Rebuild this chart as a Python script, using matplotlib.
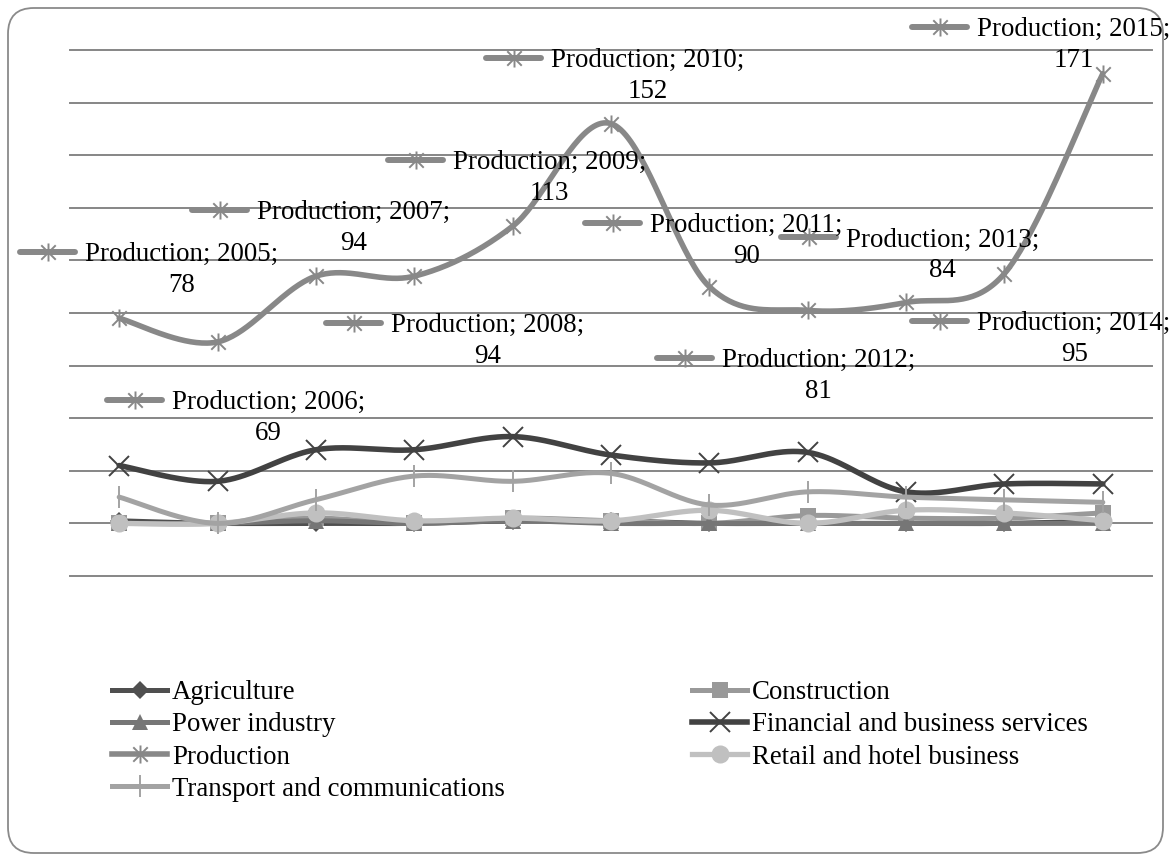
import numpy as np
import matplotlib
matplotlib.use("Agg")
import matplotlib.pyplot as plt
from matplotlib.path import Path
from matplotlib.lines import Line2D
from matplotlib.patches import FancyBboxPatch
from matplotlib.transforms import IdentityTransform

# ---------------- data ----------------
years = [2005, 2006, 2007, 2008, 2009, 2010, 2011, 2012, 2013, 2014, 2015]
agriculture = [1, 0, 0, 0, 1, 1, 0, 0, 0, 0, 1]
construction = [0, 0, 2, 0, 2, 1, 0, 3, 2, 2, 4]
power_industry = [0, 0, 1, 0, 1, 0, 0, 0, 0, 0, 0]
financial = [22, 16, 28, 28, 33, 26, 23, 27, 12, 15, 15]
production = [78, 69, 94, 94, 113, 152, 90, 81, 84, 95, 171]
retail = [0, 0, 4, 1, 2, 1, 5, 0, 5, 4, 1]
transport = [10, 0, 9, 18, 16, 19, 7, 12, 10, 9, 8]
y_ticks = [-20, 0, 20, 40, 60, 80, 100, 120, 140, 160, 180]

# label placement (pixel offsets of label text from its point: dx, dy-down)
label_offsets = [(-34, -66), (-46, 58), (-59, -66), (-23, 47), (-60, -66),
                 (-60, -66), (-59, -64), (-86, 48), (-60, -65), (-27, 47),
                 (-126, -47)]

W, H = 1171, 861
FONT = "Liberation Serif"
FS = 19.4

plt.rcParams["font.family"] = [FONT, "DejaVu Serif"]

# asterisk (x + vertical bar) marker
star_path = Path(
    [(-1, -1), (1, 1), (-1, 1), (1, -1), (0, -1.25), (0, 1.25)],
    [Path.MOVETO, Path.LINETO, Path.MOVETO, Path.LINETO, Path.MOVETO, Path.LINETO],
)


def smooth(x, y, n=40):
    P = np.column_stack([np.asarray(x, float), np.asarray(y, float)])
    P = np.vstack([P[0], P, P[-1]])
    out = []
    t = np.linspace(0, 1, n, endpoint=False)[:, None]
    for i in range(1, len(P) - 2):
        p0, p1, p2, p3 = P[i - 1], P[i], P[i + 1], P[i + 2]
        c1 = p1 + (p2 - p0) / 6.0
        c2 = p2 - (p3 - p1) / 6.0
        seg = ((1 - t) ** 3) * p1 + 3 * ((1 - t) ** 2) * t * c1 + 3 * (1 - t) * t ** 2 * c2 + t ** 3 * p2
        out.append(seg)
    out.append(P[-2][None])
    S = np.vstack(out)
    return S[:, 0], S[:, 1]


fig = plt.figure(figsize=(W / 100, H / 100), dpi=100)
fig.patch.set_facecolor("white")

# outer rounded frame
frame = FancyBboxPatch((8 / W, 8 / H), (1163 - 8) / W, (853 - 8) / H,
                       boxstyle="round,pad=0,rounding_size=0.022",
                       transform=fig.transFigure, facecolor="none",
                       edgecolor="#8a8a8a", linewidth=1.3, mutation_aspect=W / H)
fig.add_artist(frame)

ax = fig.add_axes([70 / W, 1 - 576 / H, (1152 - 70) / W, (576 - 50) / H])
ax.set_xlim(years[0] - 0.5, years[-1] + 0.5)
ax.set_ylim(y_ticks[0], y_ticks[-1])
for s in ax.spines.values():
    s.set_visible(False)
ax.set_xticks([])
ax.set_yticks([])
ax.patch.set_alpha(0)
for v in y_ticks:
    ax.axhline(v, color="#868686", lw=1.4, zorder=0, clip_on=False)

series = [
    ("Agriculture", agriculture, "#4f4f4f", "D", 9, 3.6),
    ("Construction", construction, "#999999", "s", 12, 3.6),
    ("Power industry", power_industry, "#767676", "^", 12, 3.6),
    ("Financial and business services", financial, "#424242", "x", 14, 4.0),
    ("Production", production, "#888888", star_path, 13, 4.0),
    ("Retail and hotel business", retail, "#c0c0c0", "o", 13, 3.8),
    ("Transport and communications", transport, "#a3a3a3", "|", 16, 3.6),
]

handles = {}
for i, (name, vals, col, mk, ms, lw) in enumerate(series):
    sx, sy = smooth(years, vals)
    ax.plot(sx, sy, color=col, lw=lw, solid_capstyle="round", zorder=2 + i)
    line_marker = mk in ("x", "|") or isinstance(mk, Path)
    if line_marker:
        ax.plot(years, vals, ls="none", marker=mk, ms=ms, mew=1.4,
                mec=col, mfc="none", zorder=2.5 + i)
        h = Line2D([], [], color=col, lw=lw, marker=mk, ms=ms, mew=1.4,
                   mec=col, mfc="none")
    else:
        ax.plot(years, vals, ls="none", marker=mk, ms=ms, mew=0,
                mfc=col, zorder=2.5 + i)
        h = Line2D([], [], color=col, lw=lw, marker=mk, ms=ms, mew=0, mfc=col)
    handles[name] = h

# ---------------- data labels for Production ----------------
ident = IdentityTransform()
renderer = fig.canvas.get_renderer()
for yr, val, (dx, dy) in zip(years, production, label_offsets):
    px, py = ax.transData.transform((yr, val))
    tx = px + dx
    y1 = py - dy  # display coords (from bottom), centre of first line
    fig.add_artist(Line2D([tx - 65, tx - 10], [y1, y1], transform=ident,
                          color="#888888", lw=4.3, solid_capstyle="round", zorder=20))
    fig.add_artist(Line2D([tx - 37], [y1], transform=ident, ls="none",
                          marker=star_path, ms=13, mew=1.4, mec="#888888",
                          mfc="none", zorder=21))
    t1 = fig.text(tx, y1 - 9, f"Production; {yr};", transform=ident,
                  ha="left", va="baseline", fontsize=FS, family=FONT,
                  color="black", zorder=22)
    wdt = t1.get_window_extent(renderer).width
    fig.text(tx + wdt / 2, y1 - 9 - 31, f"{val}", transform=ident,
             ha="center", va="baseline", fontsize=FS, family=FONT,
             color="black", zorder=22)

# ---------------- legend ----------------
order = ["Agriculture", "Power industry", "Production", "Transport and communications",
         "Construction", "Financial and business services", "Retail and hotel business"]
leg = fig.legend([handles[n] for n in order], order, ncol=2,
                 loc="upper left", bbox_to_anchor=(112 / W, 1 - 680 / H),
                 frameon=False, borderpad=0, borderaxespad=0,
                 prop={"family": FONT, "size": FS},
                 handlelength=2.05, handletextpad=0.17, labelspacing=0.27,
                 columnspacing=6.96)

fig.savefig("out.png", dpi=100, facecolor="white")
